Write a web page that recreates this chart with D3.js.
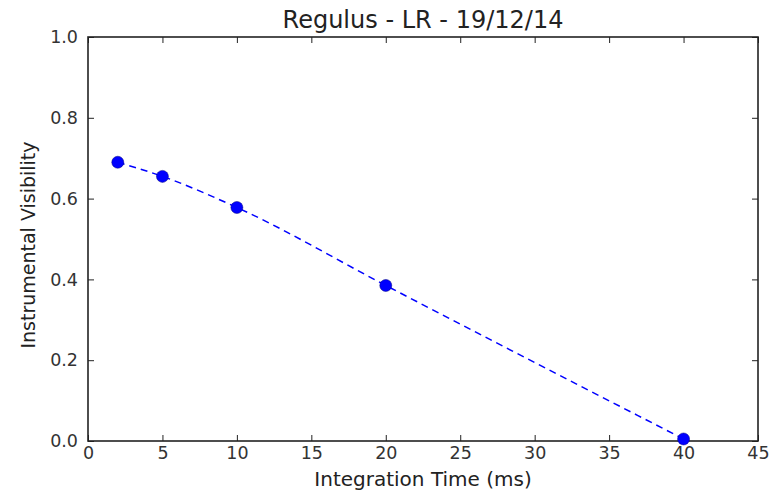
<!DOCTYPE html>
<html>
<head>
<meta charset="utf-8">
<script src="https://cdn.jsdelivr.net/npm/d3@7"></script>
<style>
  body { margin: 0; background: #fff; }
  text { font-family: "DejaVu Sans", sans-serif; fill: #222; }
</style>
</head>
<body>
<svg id="chart" width="772" height="492"></svg>
<script>
var times = [2, 5, 10, 20, 40]
  , visibility = [0.69, 0.655, 0.578, 0.385, 0.005]
  , xTicks = [0, 5, 10, 15, 20, 25, 30, 35, 40, 45]
  , yTicks = [0.0, 0.2, 0.4, 0.6, 0.8, 1.0]

var margin = {top: 37, right: 14, bottom: 51, left: 88}
  , width = 772 - margin.left - margin.right
  , height = 492 - margin.top - margin.bottom

var svg = d3.select("#chart");

var g = svg.append("g")
    .attr("transform", "translate(" + margin.left + "," + margin.top + ")");

var x = d3.scaleLinear()
    .domain([0, 45])
    .range([0, width]);

var y = d3.scaleLinear()
    .domain([0, 1])
    .range([height, 0]);

var data = times.map(function(t, i) { return {t: t, v: visibility[i]}; });

// axes, ticks pointing inward like matplotlib
function styleAxis(sel) {
  sel.select(".domain").remove();
  sel.selectAll(".tick line").attr("stroke", "#222").attr("stroke-width", 1);
  sel.selectAll(".tick text").style("font-size", "17.5px").style("fill", "#333");
}

g.append("g")
    .attr("transform", "translate(0," + height + ")")
    .call(d3.axisBottom(x).tickValues(xTicks).tickSize(-6).tickPadding(6).tickFormat(d3.format("d")))
    .call(styleAxis);

g.append("g")
    .call(d3.axisTop(x).tickValues(xTicks).tickSize(-6).tickFormat(""))
    .call(styleAxis);

g.append("g")
    .call(d3.axisLeft(y).tickValues(yTicks).tickSize(-6).tickPadding(10).tickFormat(d3.format(".1f")))
    .call(styleAxis);

g.append("g")
    .attr("transform", "translate(" + width + ",0)")
    .call(d3.axisRight(y).tickValues(yTicks).tickSize(-6).tickFormat(""))
    .call(styleAxis);

// frame
g.append("rect")
    .attr("width", width)
    .attr("height", height)
    .attr("fill", "none")
    .attr("stroke", "#222")
    .attr("stroke-width", 1.6);

var line = d3.line()
    .x(function(d) { return x(d.t); })
    .y(function(d) { return y(d.v); })
    .curve(d3.curveMonotoneX);

g.append("path")
    .datum(data)
    .attr("d", line)
    .attr("fill", "none")
    .attr("stroke", "#0000ff")
    .attr("stroke-width", 1.5)
    .attr("stroke-dasharray", "7,5");

g.selectAll(".pt")
    .data(data)
  .enter().append("circle")
    .attr("class", "pt")
    .attr("cx", function(d) { return x(d.t); })
    .attr("cy", function(d) { return y(d.v); })
    .attr("r", 6)
    .attr("fill", "#0000ff")
    .attr("stroke", "#000080")
    .attr("stroke-width", 0.5);

// labels
svg.append("text")
    .attr("x", margin.left + width / 2)
    .attr("y", 28)
    .attr("text-anchor", "middle")
    .style("font-size", "24px")
    .text("Regulus - LR - 19/12/14");

svg.append("text")
    .attr("x", margin.left + width / 2)
    .attr("y", 486)
    .attr("text-anchor", "middle")
    .style("font-size", "20px")
    .text("Integration Time (ms)");

svg.append("text")
    .attr("transform", "translate(35," + (margin.top + height / 2 + 6) + ") rotate(-90)")
    .attr("text-anchor", "middle")
    .style("font-size", "19px")
    .text("Instrumental Visibility");
</script>
</body>
</html>
